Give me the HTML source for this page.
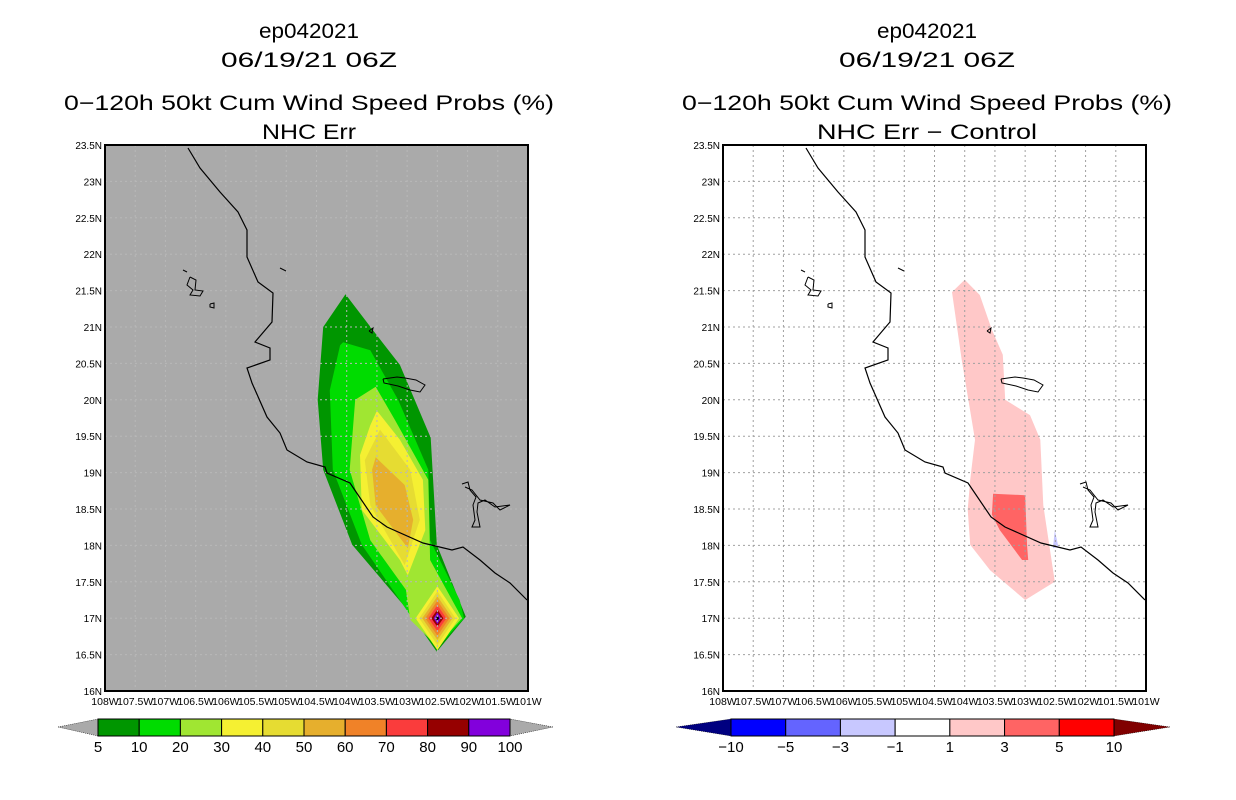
<!DOCTYPE html>
<html><head><meta charset="utf-8"><style>
body{margin:0;background:#fff}
svg{display:block}
text{font-family:"Liberation Sans",sans-serif;fill:#000}
</style></head><body>
<svg id="chart" width="1236" height="800" viewBox="0 0 1236 800" xmlns="http://www.w3.org/2000/svg">
<g id="titles">
<text x="309" y="38" font-size="21" text-anchor="middle" textLength="100" lengthAdjust="spacingAndGlyphs">ep042021</text>
<text x="309" y="67" font-size="21" text-anchor="middle" textLength="176" lengthAdjust="spacingAndGlyphs">06/19/21 06Z</text>
<text x="309" y="110" font-size="21" text-anchor="middle" textLength="490" lengthAdjust="spacingAndGlyphs">0−120h 50kt Cum Wind Speed Probs (%)</text>
<text x="309" y="139" font-size="21" text-anchor="middle" textLength="94" lengthAdjust="spacingAndGlyphs">NHC Err</text>
<text x="927" y="38" font-size="21" text-anchor="middle" textLength="100" lengthAdjust="spacingAndGlyphs">ep042021</text>
<text x="927" y="67" font-size="21" text-anchor="middle" textLength="176" lengthAdjust="spacingAndGlyphs">06/19/21 06Z</text>
<text x="927" y="110" font-size="21" text-anchor="middle" textLength="490" lengthAdjust="spacingAndGlyphs">0−120h 50kt Cum Wind Speed Probs (%)</text>
<text x="927" y="139" font-size="21" text-anchor="middle" textLength="220" lengthAdjust="spacingAndGlyphs">NHC Err − Control</text>
</g>
<g id="left"></g>
<g id="right"></g>
<g id="cbars"></g>
</svg>
<script>
// ---- data ----
const lonTicks = ["108W","107.5W","107W","106.5W","106W","105.5W","105W","104.5W","104W","103.5W","103W","102.5W","102W","101.5W","101W"];
const latTicks = ["16N","16.5N","17N","17.5N","18N","18.5N","19N","19.5N","20N","20.5N","21N","21.5N","22N","22.5N","23N","23.5N"];
// probability contours (lon W, lat N) for left panel, outer to inner
const p5 = [[104.02,21.45],[103.57,20.96],[103.12,20.48],[102.61,19.48],[102.51,18.01],[102.03,17.02],[102.51,16.54],[102.99,17.11],[103.91,18.01],[104.39,19.04],[104.48,20.0],[104.39,21.0]];
const p10 = [[104.06,20.79],[103.61,20.68],[103.15,20.0],[102.65,19.04],[102.62,18.07],[102.13,17.25],[102.06,17.0],[102.51,16.58],[102.95,17.04],[103.75,18.01],[104.23,19.04],[104.28,20.13],[104.11,20.75]];
const p20 = [[103.52,20.18],[103.20,19.72],[102.65,18.90],[102.62,17.80],[102.09,17.0],[102.51,16.62],[102.95,16.98],[103.02,17.39],[103.61,18.07],[103.95,19.04],[103.86,20.0]];
const p30 = [[103.50,19.85],[103.12,19.45],[102.74,18.90],[102.70,18.21],[102.99,17.59],[103.12,17.80],[103.75,18.49],[103.78,19.24],[103.61,19.65]];
const p40 = [[103.45,19.59],[102.95,19.04],[102.79,18.35],[103.04,17.73],[103.61,18.55],[103.70,19.17]];
const p50 = [[103.52,19.21],[103.04,18.83],[102.90,18.35],[102.99,17.96],[103.52,18.55],[103.58,19.04]];
const diamondLevels = [30,40,50,60,70,80,90,100];
const diamondHalfLon = [0.36,0.30,0.25,0.20,0.15,0.10,0.06,0.03];
const diamondHalfLat = [0.44,0.37,0.30,0.24,0.18,0.12,0.08,0.04];
const diamondCenter = [102.5,17.0];
// difference contours right panel
const d1 = [[104.0,21.65],[104.21,21.48],[104.05,20.55],[103.83,19.45],[103.91,18.90],[103.95,18.49],[103.91,18.01],[103.58,17.66],[103.0,17.25],[102.51,17.50],[102.70,18.55],[102.75,19.45],[102.92,19.79],[103.33,20.0],[103.37,20.62],[103.55,20.96],[103.75,21.44]];
const d3 = [[103.53,18.71],[103.0,18.69],[102.97,18.01],[102.95,17.80],[103.05,17.80],[103.42,18.21],[103.55,18.42]];
const dNeg1 = [[102.51,18.21],[102.45,17.98],[102.54,17.96]];
const leftLevels = ["5","10","20","30","40","50","60","70","80","90","100"];
const leftColors = ["#009600","#00dc00","#a0e632","#f5f032","#e6dc32","#e6af2d","#f08228","#fa3c3c","#960000","#8200dc"];
const rightLevels = ["−10","−5","−3","−1","1","3","5","10"];
const rightColors = ["#0000ff","#6464ff","#c8c8ff","#ffffff","#ffc8c8","#ff6464","#ff0000"];

// ---- helpers ----
const NS="http://www.w3.org/2000/svg";
function mk(tag,attrs,parent){const e=document.createElementNS(NS,tag);for(const k in attrs)e.setAttribute(k,attrs[k]);parent.appendChild(e);return e;}
function makeAxes(x0){
  return {x:lw=>x0+(108-lw)*60.43, y:lat=>691-(lat-16)*72.8};
}
function poly(pts,ax,fill,parent,name){
  const e=mk('polygon',{points:pts.map(p=>ax.x(p[0]).toFixed(1)+','+ax.y(p[1]).toFixed(1)).join(' '),fill:fill},parent);
  
  
}
const coast=[[188,148],[200,168],[220,192],[238,212],[247,230],[247,257],[258,282],[273,293],[272,322],[255,342],[270,348],[270,360],[247,368],[252,383],[267,417],[280,433],[287,450],[307,462],[325,467],[327,473],[350,483],[373,517],[387,527],[423,543],[452,550],[463,547],[480,560],[495,573],[510,583],[527,600]];
function drawPanel(g,x0,bg,gridCol,fillFn){
  const ax=makeAxes(x0);
  const bgr=mk('rect',{x:x0,y:145,width:423,height:546,fill:bg},g);
  
  
  fillFn(ax,g);
  // grid
  for(let i=1;i<lonTicks.length-1;i++){const x=ax.x(108-i*0.5);const l=mk('line',{x1:x,x2:x,y1:145,y2:691,stroke:gridCol,'stroke-dasharray':'2,3','stroke-width':1},g);}
  for(let i=1;i<latTicks.length-1;i++){const y=ax.y(16+i*0.5);const l=mk('line',{x1:x0,x2:x0+423,y1:y,y2:y,stroke:gridCol,'stroke-dasharray':'2,3','stroke-width':1},g);}
  // coast
  const dx=x0-105;
  const c=mk('polyline',{points:coast.map(p=>(p[0]+dx)+','+p[1]).join(' '),fill:'none',stroke:'#000','stroke-width':1.2},g);
  
  const isl=[[[183,270],[187,272]],[[190,277],[187,285],[193,290],[190,295],[200,296],[203,291],[195,290],[196,280],[190,277]],[[210,304],[214,303],[214,308],[210,307],[210,304]],[[280,268],[286,271]],[[369,331],[373,328],[372,333],[369,331]],[[383,379],[397,377],[405,378],[416,380],[425,385],[420,392],[410,390],[398,386],[384,383],[383,379]],[[462,484],[468,482],[470,490],[476,497],[473,505],[475,520],[472,527],[480,527],[477,512],[478,503],[485,500],[495,507],[510,505],[500,510],[493,503],[480,500],[472,490],[465,487]]];
  isl.forEach(s=>{const e=mk('polyline',{points:s.map(p=>(p[0]+dx)+','+p[1]).join(' '),fill:'none',stroke:'#000','stroke-width':1},g);});
  const fr=mk('rect',{x:x0,y:145,width:423,height:546,fill:'none',stroke:'#000','stroke-width':2},g);
  
  lonTicks.forEach((t,i)=>{const x=ax.x(108-i*0.5);const e=mk('text',{x:x,y:705,'font-size':10.5,'text-anchor':'middle'},g);e.textContent=t;});
  latTicks.forEach((t,i)=>{const y=ax.y(16+i*0.5);const e=mk('text',{x:x0-3,y:y+4,'font-size':10,'text-anchor':'end'},g);e.textContent=t;});
}
drawPanel(document.getElementById('left'),105,'#aaaaaa','#b8b8b8',(ax,g)=>{
  [p5,p10,p20,p30,p40,p50].forEach((p,i)=>poly(p,ax,leftColors[i],g,'contour-'+leftLevels[i]));
  diamondLevels.forEach((lv,i)=>{
    const c=diamondCenter,hx=diamondHalfLon[i],hy=diamondHalfLat[i];
    poly([[c[0],c[1]+hy],[c[0]-hx,c[1]],[c[0],c[1]-hy],[c[0]+hx,c[1]]],ax,leftColors[i+3],g,'contour-'+lv);
  });
});
drawPanel(document.getElementById('right'),723,'#ffffff','#a0a0a0',(ax,g)=>{
  poly(d1,ax,rightColors[4],g,'diff-contour-1');
  poly(d3,ax,rightColors[5],g,'diff-contour-3');
  poly(dNeg1,ax,rightColors[2],g,'diff-contour-neg1');
});
// colorbars
const cb=document.getElementById('cbars');
function colorbar(x0,x1,n,colors,labels,leftTri,rightTri,tl,tr,name){
  const w=(x1-x0)/n;
  const a=mk('polygon',{points:`${tl},727 ${x0},719 ${x0},736`,fill:leftTri,stroke:'#000','stroke-width':0.5,'stroke-dasharray':'1,1'},cb);
  
  const b=mk('polygon',{points:`${tr},727 ${x1},719 ${x1},736`,fill:rightTri,stroke:'#000','stroke-width':0.5,'stroke-dasharray':'1,1'},cb);
  
  colors.forEach((c,i)=>{const r=mk('rect',{x:x0+i*w,y:719,width:w,height:17,fill:c,stroke:'#000','stroke-width':1},cb);});
  labels.forEach((l,i)=>{const t=mk('text',{x:x0+i*w,y:752,'font-size':15,'text-anchor':'middle'},cb);t.textContent=l;});
}
colorbar(98,510,10,leftColors,leftLevels,'#aaaaaa','#aaaaaa',58,553,'left-colorbar');
colorbar(731,1114,7,rightColors,rightLevels,'#000080','#800000',676,1170,'right-colorbar');
</script>
</body></html>
